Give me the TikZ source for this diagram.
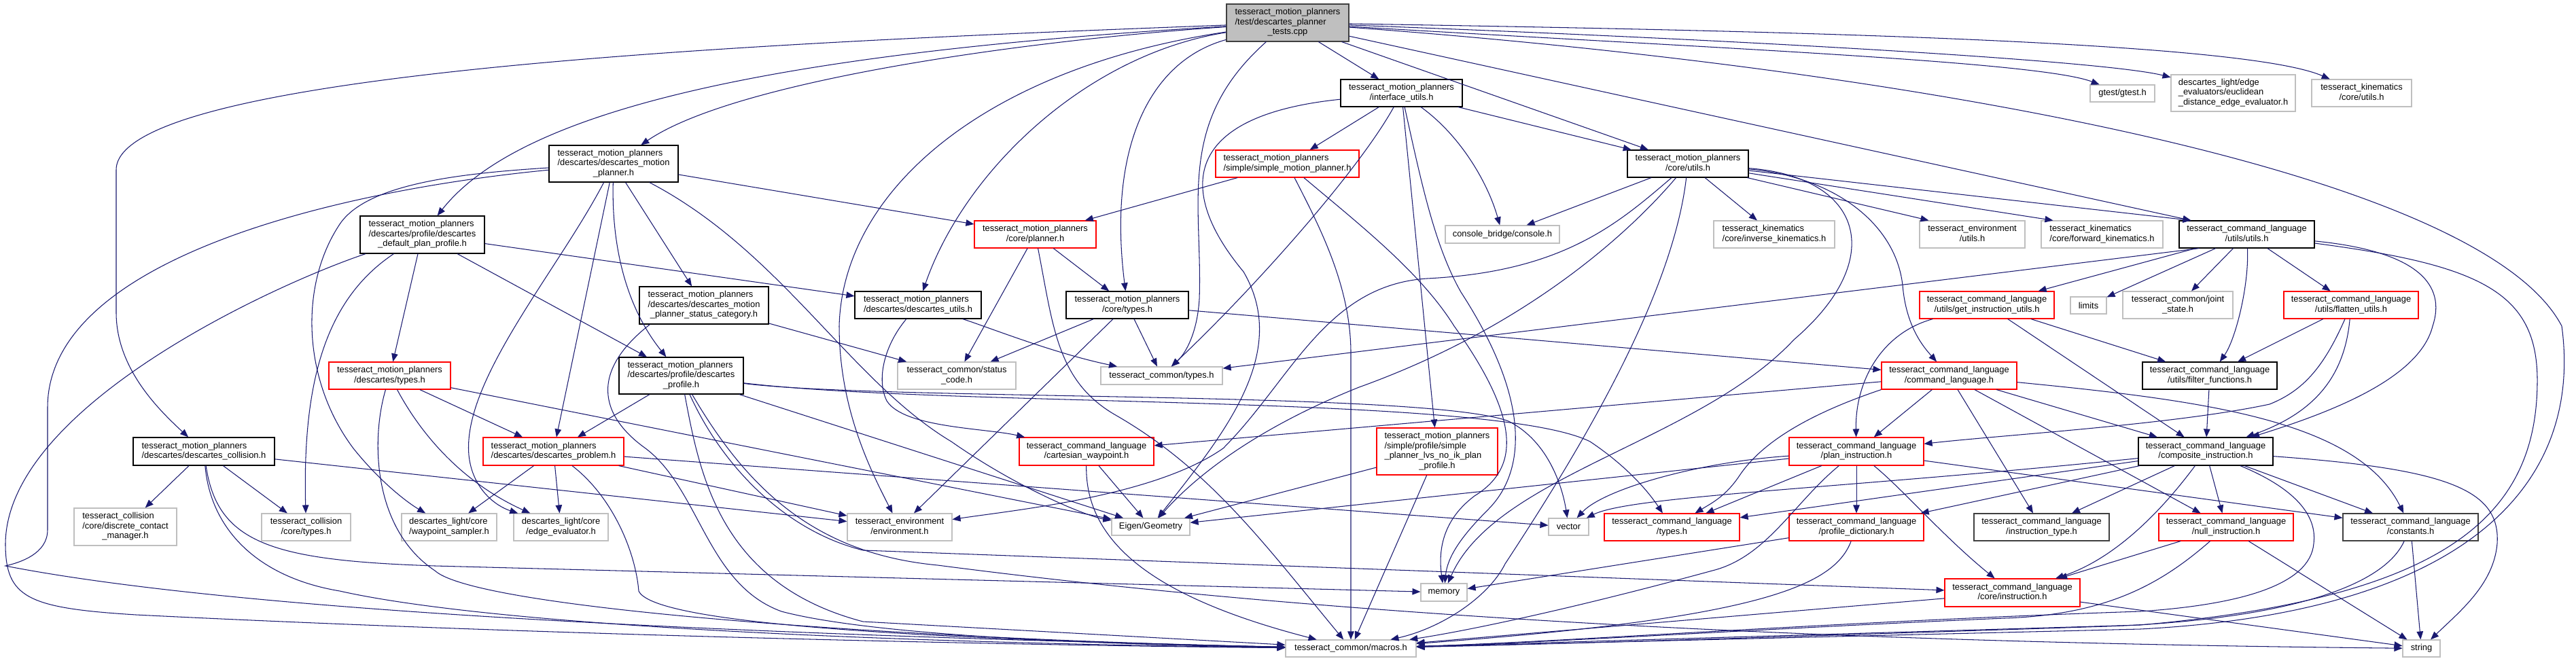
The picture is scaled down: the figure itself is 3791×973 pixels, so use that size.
\documentclass[tikz,border=0pt]{standalone}
\usepackage{fontspec}
\setmainfont{Liberation Sans}
\usetikzlibrary{arrows.meta}
\definecolor{edgec}{HTML}{191970}
\definecolor{gbord}{HTML}{BFBFBF}
\definecolor{rootfill}{HTML}{BFBFBF}
\definecolor{dgray}{HTML}{404040}
\newcommand\ml[2]{\begin{tabular}{@{}l@{}}#1\\\multicolumn{1}{@{}c@{}}{#2}\end{tabular}}
\newcommand\fsz{\fontsize{12.9pt}{14.5pt}\selectfont}
\begin{document}
\begin{tikzpicture}[x=1pt,y=-1pt,
 nb/.style={draw, line width=1.1pt, inner sep=0pt, font=\fsz},
 bk/.style={nb, draw=black},
 dk/.style={nb, draw=dgray},
 rd/.style={nb, draw=red},
 gy/.style={nb, draw=gbord},
 rt/.style={nb, draw=dgray, fill=rootfill},
 e/.style={draw=edgec, line width=1.05pt, -{Triangle[length=12pt,width=9.5pt]}}]
\useasboundingbox (0,0) rectangle (3791,973);
\fill[white] (0,0) rectangle (3791,973);
% ---------------- nodes
\node[rt,minimum width=180pt,minimum height=55pt] (R) at (1895,33.5) {\ml{tesseract\_motion\_planners\\/test/descartes\_planner}{\_tests.cpp}};
\node[bk,minimum width=179pt,minimum height=40pt] (IU) at (2062.5,137) {\ml{tesseract\_motion\_planners}{/interface\_utils.h}};
\node[rd,minimum width=211pt,minimum height=40pt] (SMP) at (1894.5,241) {\ml{tesseract\_motion\_planners}{/simple/simple\_motion\_planner.h}};
\node[bk,minimum width=178pt,minimum height=40pt] (CU) at (2484,241) {\ml{tesseract\_motion\_planners}{/core/utils.h}};
\node[gy,minimum width=95pt,minimum height=25pt] (GT) at (3123.5,137.5) {gtest/gtest.h};
\node[gy,minimum width=183pt,minimum height=54pt] (EEE) at (3286.5,137) {\ml{descartes\_light/edge\\\_evaluators/euclidean}{\_distance\_edge\_evaluator.h}};
\node[gy,minimum width=147pt,minimum height=40pt] (KCU) at (3475.5,137) {\ml{tesseract\_kinematics}{/core/utils.h}};
\node[bk,minimum width=190pt,minimum height=54pt] (DMP) at (903,241) {\ml{tesseract\_motion\_planners\\/descartes/descartes\_motion}{\_planner.h}};
\node[bk,minimum width=183pt,minimum height=55pt] (DDPP) at (621.5,345.5) {\ml{tesseract\_motion\_planners\\/descartes/profile/descartes}{\_default\_plan\_profile.h}};
\node[rd,minimum width=179pt,minimum height=40pt] (CP) at (1523.5,345) {\ml{tesseract\_motion\_planners}{/core/planner.h}};
\node[gy,minimum width=168pt,minimum height=26pt] (CB) at (2211,345) {console\_bridge/console.h};
\node[gy,minimum width=178pt,minimum height=40pt] (IK) at (2611,345) {\ml{tesseract\_kinematics}{/core/inverse\_kinematics.h}};
\node[gy,minimum width=155pt,minimum height=40pt] (ENVU) at (2902.5,345) {\ml{tesseract\_environment}{/utils.h}};
\node[gy,minimum width=179pt,minimum height=40pt] (FK) at (3093.5,345) {\ml{tesseract\_kinematics}{/core/forward\_kinematics.h}};
\node[bk,minimum width=199pt,minimum height=40pt] (TUU) at (3306.5,345) {\ml{tesseract\_command\_language}{/utils/utils.h}};
\node[bk,minimum width=190pt,minimum height=55pt] (DMPSC) at (1036,449.5) {\ml{tesseract\_motion\_planners\\/descartes/descartes\_motion}{\_planner\_status\_category.h}};
\node[bk,minimum width=186pt,minimum height=40pt] (DU) at (1351,449) {\ml{tesseract\_motion\_planners}{/descartes/descartes\_utils.h}};
\node[bk,minimum width=180pt,minimum height=40pt] (CT) at (1659,449) {\ml{tesseract\_motion\_planners}{/core/types.h}};
\node[rd,minimum width=198pt,minimum height=40pt] (GIU) at (2924,449) {\ml{tesseract\_command\_language}{/utils/get\_instruction\_utils.h}};
\node[gy,minimum width=53pt,minimum height=25pt] (LIM) at (3073.5,449.5) {limits};
\node[gy,minimum width=162pt,minimum height=40pt] (JS) at (3205,449) {\ml{tesseract\_common/joint}{\_state.h}};
\node[rd,minimum width=198pt,minimum height=40pt] (FU) at (3460,449) {\ml{tesseract\_command\_language}{/utils/flatten\_utils.h}};
\node[rd,minimum width=179pt,minimum height=40pt] (DT) at (573.5,553) {\ml{tesseract\_motion\_planners}{/descartes/types.h}};
\node[bk,minimum width=183pt,minimum height=54pt] (DPF) at (1002.5,553) {\ml{tesseract\_motion\_planners\\/descartes/profile/descartes}{\_profile.h}};
\node[gy,minimum width=174pt,minimum height=40pt] (SC) at (1408,553) {\ml{tesseract\_common/status}{\_code.h}};
\node[gy,minimum width=179pt,minimum height=26pt] (CTY) at (1709.5,553) {tesseract\_common/types.h};
\node[rd,minimum width=199pt,minimum height=40pt] (CL) at (2868.5,553) {\ml{tesseract\_command\_language}{/command\_language.h}};
\node[bk,minimum width=198pt,minimum height=40pt] (FF) at (3252,553) {\ml{tesseract\_command\_language}{/utils/filter\_functions.h}};
\node[bk,minimum width=208pt,minimum height=41pt] (DC) at (300,664.5) {\ml{tesseract\_motion\_planners}{/descartes/descartes\_collision.h}};
\node[rd,minimum width=207pt,minimum height=41pt] (DP) at (814.5,664.5) {\ml{tesseract\_motion\_planners}{/descartes/descartes\_problem.h}};
\node[rd,minimum width=198pt,minimum height=41pt] (CW) at (1599,664.5) {\ml{tesseract\_command\_language}{/cartesian\_waypoint.h}};
\node[rd,minimum width=178pt,minimum height=69pt] (SPL) at (2115,664.5) {\ml{tesseract\_motion\_planners\\/simple/profile/simple\\\_planner\_lvs\_no\_ik\_plan}{\_profile.h}};
\node[rd,minimum width=198pt,minimum height=41pt] (PI) at (2732,664.5) {\ml{tesseract\_command\_language}{/plan\_instruction.h}};
\node[bk,minimum width=198pt,minimum height=41pt] (CI) at (3246,664.5) {\ml{tesseract\_command\_language}{/composite\_instruction.h}};
\node[gy,minimum width=151pt,minimum height=55pt] (DCM) at (184.5,775.5) {\ml{tesseract\_collision\\/core/discrete\_contact}{\_manager.h}};
\node[gy,minimum width=131pt,minimum height=40pt] (COLT) at (450.5,776) {\ml{tesseract\_collision}{/core/types.h}};
\node[gy,minimum width=140pt,minimum height=40pt] (WS) at (661,776) {\ml{descartes\_light/core}{/waypoint\_sampler.h}};
\node[gy,minimum width=139pt,minimum height=40pt] (EE) at (825.5,776) {\ml{descartes\_light/core}{/edge\_evaluator.h}};
\node[gy,minimum width=154pt,minimum height=40pt] (ENV) at (1324,776) {\ml{tesseract\_environment}{/environment.h}};
\node[gy,minimum width=115pt,minimum height=25pt] (EIG) at (1693.5,775.5) {Eigen/Geometry};
\node[gy,minimum width=59pt,minimum height=25pt] (VEC) at (2308.5,775.5) {vector};
\node[rd,minimum width=199pt,minimum height=40pt] (TT) at (2460.5,776) {\ml{tesseract\_command\_language}{/types.h}};
\node[rd,minimum width=198pt,minimum height=40pt] (PD) at (2732,776) {\ml{tesseract\_command\_language}{/profile\_dictionary.h}};
\node[dk,minimum width=199pt,minimum height=40pt] (IT) at (3004.5,776) {\ml{tesseract\_command\_language}{/instruction\_type.h}};
\node[rd,minimum width=198pt,minimum height=40pt] (NI) at (3276,776) {\ml{tesseract\_command\_language}{/null\_instruction.h}};
\node[dk,minimum width=199pt,minimum height=40pt] (CONST) at (3547.5,776) {\ml{tesseract\_command\_language}{/constants.h}};
\node[gy,minimum width=68pt,minimum height=26pt] (MEM) at (2125,872) {memory};
\node[rd,minimum width=199pt,minimum height=41pt] (CIN) at (2961.5,872.5) {\ml{tesseract\_command\_language}{/core/instruction.h}};
\node[gy,minimum width=192pt,minimum height=25pt] (MAC) at (1988,954.5) {tesseract\_common/macros.h};
\node[gy,minimum width=55pt,minimum height=25pt] (STR) at (3563.5,954.5) {string};
% ---------------- edges: root
\draw[e] (R) -- (IU);
\draw[e] (R) -- (CU);
\draw[e] (R) .. controls (1500,60) and (1080,120) .. (DMP);
\draw[e] (R) .. controls (1100,80) and (760,170) .. (DDPP);
\draw[e] (R) .. controls (1200,60) and (171,100) .. (171,250) -- (171,460) .. controls (171,540) and (230,600) .. (DC);
\draw[e] (R) .. controls (1600,80) and (1420,250) .. (DU);
\draw[e] (R) .. controls (1450,100) and (1240,280) .. (1235,480) .. controls (1235,600) and (1280,690) .. (ENV);
\draw[e] (R) .. controls (1690,90) and (1630,220) .. (CT);
\draw[e] (R) .. controls (1730,180) and (1770,300) .. (1765,440) .. controls (1762,490) and (1745,520) .. (CTY);
\draw[e] (R) .. controls (2500,70) and (3000,90) .. (GT);
\draw[e] (R) .. controls (2600,60) and (3100,90) .. (EEE);
\draw[e] (R) .. controls (2600,45) and (3300,60) .. (KCU);
\draw[e] (R) -- ([xshift=18pt]TUU.north west);
\draw[e] (R) .. controls (2800,100) and (3650,250) .. (3770,480) .. controls (3800,700) and (3650,900) .. (3150,926) -- (MAC);
% interface utils
\draw[e] (IU) -- (SMP);
\draw[e] (IU) -- (CU);
\draw[e] (IU) .. controls (2150,200) and (2190,270) .. (CB);
\draw[e] (IU) -- (SPL);
\draw[e] (IU) .. controls (2000,250) and (1850,420) .. (CTY);
\draw[e] (IU) .. controls (1740,170) and (1730,280) .. (1830,400) .. controls (1900,520) and (1800,640) .. (EIG);
\draw[e] (IU) .. controls (2090,260) and (2110,360) .. (2150,430) .. controls (2260,600) and (2240,700) .. (2190,750) .. controls (2150,790) and (2130,820) .. (MEM);
% core utils
\draw[e] (CU) -- (CB);
\draw[e] (CU) -- (IK);
\draw[e] (CU) -- ([xshift=14pt]ENVU.north west);
\draw[e] (CU) -- ([xshift=18pt]FK.north west);
\draw[e] (CU) -- ([xshift=18pt]TUU.north west);
\draw[e] (CU) .. controls (2700,260) and (2790,330) .. (2800,420) .. controls (2805,480) and (2830,510) .. (CL);
\draw[e] (CU) .. controls (2380,330) and (2300,400) .. (2100,410) .. controls (1950,420) and (1900,560) .. (1800,660) .. controls (1700,730) and (1500,750) .. (ENV);
\draw[e] (CU) .. controls (2400,340) and (2250,480) .. (2000,570) .. controls (1850,630) and (1760,700) .. (EIG);
\draw[e] (CU) .. controls (2460,450) and (2300,700) .. (2215,830) .. controls (2190,880) and (2120,925) .. (MAC);
\draw[e] (CU) .. controls (2740,260) and (2780,380) .. (2640,500) .. controls (2500,650) and (2200,700) .. (MEM);
% simple motion planner
\draw[e] (SMP) -- (CP);
\draw[e] (SMP) .. controls (1940,330) and (1988,420) .. (1988,520) -- (MAC);
\draw[e] (SMP) .. controls (2000,330) and (2090,400) .. (2140,480) .. controls (2240,620) and (2235,690) .. (2170,730) .. controls (2130,760) and (2115,800) .. (MEM);
% core planner
\draw[e] (CP) -- (CT);
\draw[e] (CP) -- (SC);
\draw[e] (CP) .. controls (1550,480) and (1555,560) .. (1640,610) .. controls (1780,690) and (1860,800) .. (MAC);
% descartes motion planner
\draw[e] (DMP) -- (CP);
\draw[e] (DMP) -- (DMPSC);
\draw[e] (DMP) .. controls (900,360) and (920,450) .. (DPF);
\draw[e] (DMP) -- (DP);
\draw[e] (DMP) .. controls (820,400) and (680,560) .. (690,670) .. controls (695,720) and (730,745) .. (EE);
\draw[e] (DMP) .. controls (680,255) and (540,270) .. (500,330) .. controls (440,420) and (445,560) .. (520,660) .. controls (560,710) and (600,740) .. (WS);
\draw[e] (DMP) .. controls (500,280) and (70,380) .. (70,600) -- (70,780) .. controls (70,815) and (30,828) .. (8,833) .. controls (300,890) and (900,930) .. (MAC);
\draw[e] (DMP) .. controls (1150,370) and (1250,560) .. (1400,650) .. controls (1500,720) and (1600,760) .. (EIG);
% default plan profile
\draw[e] (DDPP) -- (DU);
\draw[e] (DDPP) -- (DT);
\draw[e] (DDPP) .. controls (480,440) and (445,560) .. (COLT);
\draw[e] (DDPP) -- (DPF);
\draw[e] (DDPP) .. controls (400,420) and (10,600) .. (8,800) .. controls (8,880) and (40,895) .. (200,905) .. controls (800,935) and (1500,950) .. (MAC);
% descartes collision
\draw[e] (DC) -- (DCM);
\draw[e] (DC) -- (COLT);
\draw[e] (DC) -- (ENV);
\draw[e] (DC) .. controls (320,800) and (400,825) .. (640,833) -- (MEM);
\draw[e] (DC) .. controls (310,780) and (380,850) .. (500,870) .. controls (700,915) and (1200,945) .. (MAC);
% descartes utils
\draw[e] (DU) .. controls (1450,480) and (1550,520) .. (CTY);
\draw[e] (DU) .. controls (1300,510) and (1290,560) .. (1305,590) .. controls (1330,630) and (1450,630) .. (CW);
% status category
\draw[e] (DMPSC) -- (SC);
\draw[e] ([xshift=16pt]DMPSC.south west) .. controls (870,545) and (880,610) .. (950,660) .. controls (1030,720) and (1040,860) .. (1150,900) .. controls (1300,940) and (1700,950) .. (MAC);
% core types
\draw[e] (CT) -- (SC);
\draw[e] (CT) -- (CTY);
\draw[e] (CT) -- (ENV);
\draw[e] (CT) -- (CL);
% descartes types
\draw[e] (DT) -- (DP);
\draw[e] (DT) .. controls (620,640) and (680,710) .. (EE);
\draw[e] (DT) -- (EIG);
\draw[e] (DT) .. controls (545,650) and (550,780) .. (640,840) .. controls (700,895) and (1300,940) .. (MAC);
% descartes problem
\draw[e] (DP) -- (WS);
\draw[e] (DP) -- (EE);
\draw[e] (DP) -- (ENV);
\draw[e] (DP) -- (VEC);
\draw[e] (DP) .. controls (900,730) and (935,810) .. (940,870) .. controls (960,915) and (1300,940) .. (MAC);
% descartes profile
\draw[e] (DPF) -- (DP);
\draw[e] (DPF) .. controls (1300,590) and (2100,575) .. (2220,620) .. controls (2280,650) and (2300,720) .. (VEC);
\draw[e] (DPF) .. controls (1400,600) and (2200,580) .. (2340,650) .. controls (2400,690) and (2430,730) .. (TT);
\draw[e] (DPF) .. controls (1030,700) and (1060,860) .. (1270,915) -- (MAC);
\draw[e] (DPF) .. controls (1060,680) and (1150,780) .. (1270,810) -- (CIN);
\draw[e] (DPF) .. controls (1100,720) and (1200,815) .. (1380,832) .. controls (1900,900) and (2600,945) .. (STR);
\draw[e] (DPF) -- (EIG);
% cartesian waypoint
\draw[e] (CW) -- (EIG);
\draw[e] (CW) .. controls (1597,800) and (1700,880) .. (MAC);
% simple planner lvs
\draw[e] (SPL) -- (EIG);
\draw[e] (SPL) -- (MAC);
% command language
\draw[e] (CL) -- (CW);
\draw[e] (CL) -- (PI);
\draw[e] (CL) -- (IT);
\draw[e] (CL) -- (NI);
\draw[e] (CL) -- (CI);
\draw[e] (CL) .. controls (3250,590) and (3470,620) .. (CONST);
\draw[e] (CL.south west) .. controls (2690,600) and (2600,640) .. (2560,700) .. controls (2540,730) and (2520,740) .. (TT);
% plan instruction
\draw[e] (PI) -- (PD);
\draw[e] (PI) .. controls (2800,720) and (2860,790) .. (CIN);
\draw[e] (PI) -- (TT);
\draw[e] (PI) .. controls (2500,680) and (2360,720) .. (VEC);
\draw[e] (PI) -- (EIG);
\draw[e] (PI) .. controls (2640,740) and (2600,820) .. (2520,840) .. controls (2300,900) and (2150,930) .. (MAC);
\draw[e] (PI) -- (CONST);
% profile dictionary
\draw[e] (PD) -- (MEM);
\draw[e] (PD) .. controls (2700,860) and (2600,910) .. (MAC);
% core instruction
\draw[e] (CIN) -- (STR);
\draw[e] (CIN) -- (MAC);
% composite instruction
\draw[e] (CI) .. controls (2700,720) and (2400,730) .. (VEC);
\draw[e] (CI) -- (TT);
\draw[e] (CI) -- (PD);
\draw[e] (CI) -- (IT);
\draw[e] (CI) -- (NI);
\draw[e] (CI) -- (CONST);
\draw[e] (CI) .. controls (3600,690) and (3680,720) .. (3675,800) .. controls (3670,860) and (3620,900) .. (STR);
\draw[e] (CI) .. controls (3190,740) and (3120,820) .. (CIN);
\draw[e] (CI) .. controls (3380,720) and (3410,760) .. (3405,800) .. controls (3400,860) and (3300,890) .. (3150,900) .. controls (2700,915) and (2300,945) .. (MAC);
% null instruction
\draw[e] (NI) -- (CIN);
\draw[e] (NI) -- (STR);
\draw[e] (NI) .. controls (3180,860) and (3100,905) .. (2950,910) .. controls (2600,925) and (2300,945) .. (MAC);
% constants
\draw[e] (CONST) -- (STR);
\draw[e] (CONST) .. controls (3500,880) and (3300,915) .. (3100,922) .. controls (2700,935) and (2300,948) .. (MAC);
% utils
\draw[e] (FF) -- (CI);
\draw[e] (FU) -- (FF);
\draw[e] (FU) .. controls (3450,560) and (3400,610) .. (CI);
\draw[e] (FU) .. controls (3420,540) and (3390,575) .. (3340,595) .. controls (3200,625) and (2950,640) .. (PI);
\draw[e] (GIU) -- (FF);
\draw[e] (GIU) -- (CI);
\draw[e] ([xshift=20pt]GIU.south west) .. controls (2770,490) and (2730,560) .. (PI);
\draw[e] (TUU) -- (GIU);
\draw[e] (TUU) -- (LIM);
\draw[e] (TUU) -- (JS);
\draw[e] (TUU) -- (FU);
\draw[e] (TUU) .. controls (3310,420) and (3290,500) .. (FF);
\draw[e] (TUU) .. controls (3560,370) and (3600,420) .. (3580,480) .. controls (3560,560) and (3420,610) .. (CI);
\draw[e] ([xshift=30pt]TUU.south west) -- (CTY);
\draw[e] (TUU) .. controls (3650,390) and (3734,430) .. (3734,560) .. controls (3734,760) and (3600,880) .. (3150,920) -- (MAC);
\end{tikzpicture}
\end{document}
